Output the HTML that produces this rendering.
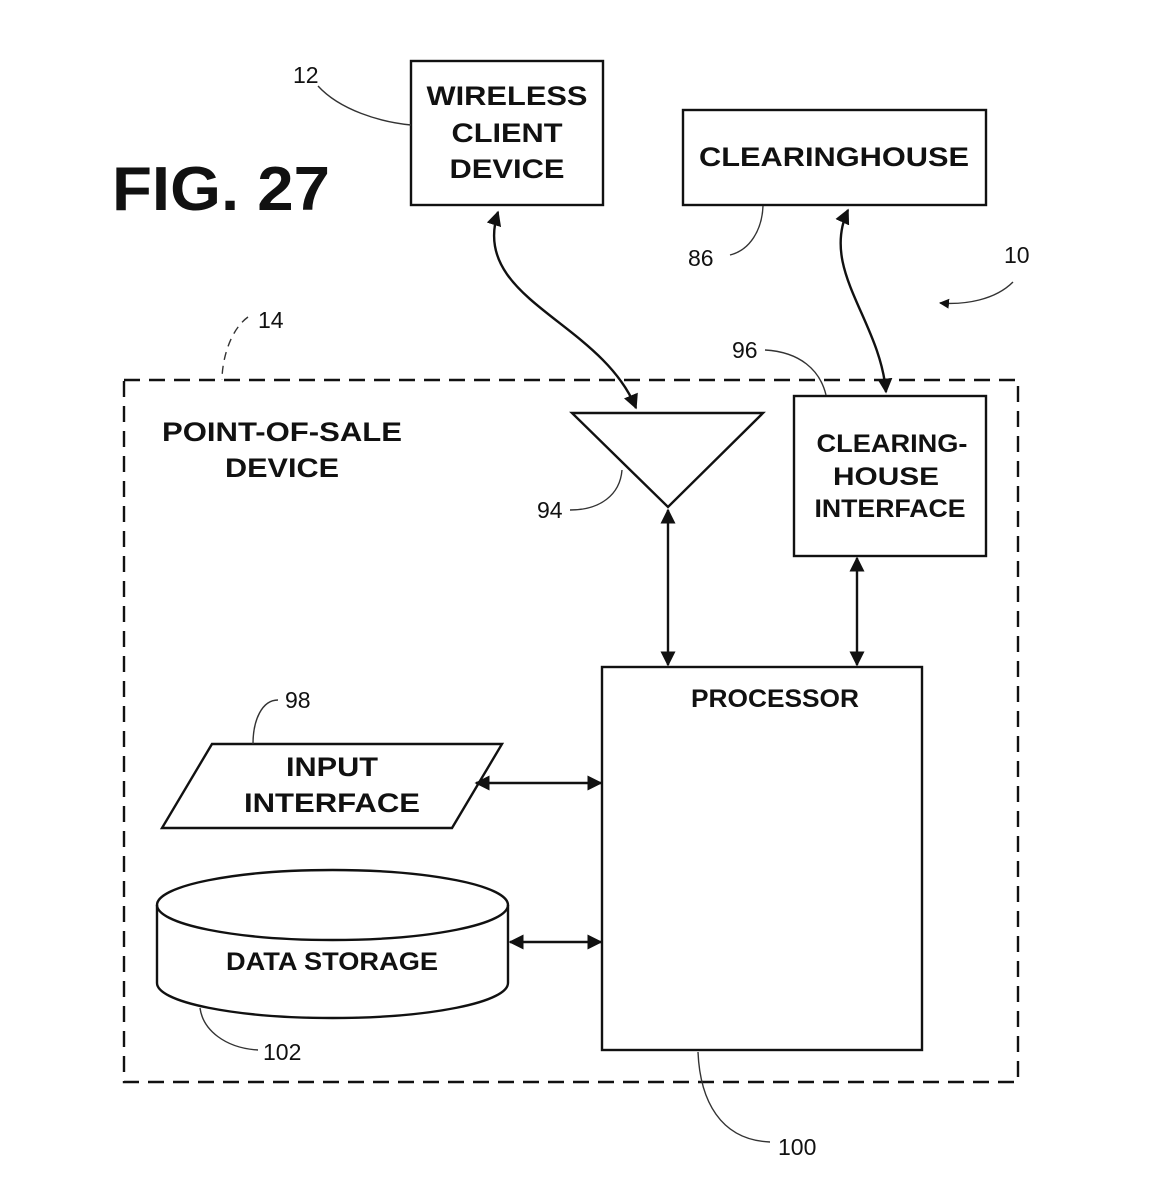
<!DOCTYPE html>
<html><head><meta charset="utf-8"><style>
html,body{margin:0;padding:0;background:#fff;}
svg{display:block;}
text{font-family:"Liberation Sans",Arial,sans-serif;fill:#111;}
.b{font-weight:bold;font-size:27px;text-anchor:middle;}
.n{font-size:23px;}
</style></head><body>
<svg width="1167" height="1200" viewBox="0 0 1167 1200" xmlns="http://www.w3.org/2000/svg">
<defs>
<marker id="a" viewBox="0 0 10 10" refX="9" refY="5" markerWidth="10" markerHeight="10" orient="auto-start-reverse" markerUnits="userSpaceOnUse"><path d="M0,0 L10,5 L0,10 z" fill="#111"/></marker>
<marker id="s" viewBox="0 0 10 10" refX="9" refY="5" markerWidth="15" markerHeight="15" orient="auto-start-reverse" markerUnits="userSpaceOnUse"><path d="M0,0 L10,5 L0,10 z" fill="#111"/></marker>
</defs>
<g fill="none" stroke="#111" stroke-width="2.4">
<text x="112" y="210" textLength="218" lengthAdjust="spacingAndGlyphs" style="font-weight:bold;font-size:62px;fill:#111;stroke:none">FIG. 27</text>
<rect x="411" y="61" width="192" height="144"/>
<rect x="683" y="110" width="303" height="95"/>
<rect x="124" y="380" width="894" height="702" stroke-dasharray="16,9"/>
<polygon points="572,413 763,413 668,507"/>
<rect x="794" y="396" width="192" height="160"/>
<rect x="602" y="667" width="320" height="383"/>
<polygon points="212,744 502,744 452,828 162,828"/>
<path d="M157,905 L157,983 A175.5,35 0 0 0 508,983 L508,905"/>
<ellipse cx="332.5" cy="905" rx="175.5" ry="35"/>
<path d="M498,212 C470,300 600,320 636,408" marker-start="url(#s)" marker-end="url(#s)"/>
<path d="M848,210 C820,270 880,320 886,392" marker-start="url(#s)" marker-end="url(#s)"/>
<path d="M668,510 L668,665" marker-start="url(#s)" marker-end="url(#s)"/>
<path d="M857,558 L857,665" marker-start="url(#s)" marker-end="url(#s)"/>
<path d="M476,783 L601,783" marker-start="url(#s)" marker-end="url(#s)"/>
<path d="M510,942 L601,942" marker-start="url(#s)" marker-end="url(#s)"/>
</g>
<g fill="none" stroke="#333" stroke-width="1.4">
<path d="M318,86 C340,110 380,122 411,125"/>
<path d="M730,255 C750,250 762,230 763,206"/>
<path d="M1013,282 C995,300 965,305 940,303" marker-end="url(#a)"/>
<path d="M248,317 C230,330 222,360 222,380" stroke-dasharray="8,6"/>
<path d="M570,510 C600,510 620,495 622,470"/>
<path d="M765,350 C800,352 820,370 826,395"/>
<path d="M278,700 C262,700 253,720 253,744"/>
<path d="M258,1050 C225,1048 203,1030 200,1008"/>
<path d="M770,1142 C720,1140 700,1100 698,1052"/>
</g>
<g lengthAdjust="spacingAndGlyphs">
<text class="b" x="507" y="105" textLength="161" lengthAdjust="spacingAndGlyphs">WIRELESS</text>
<text class="b" x="507" y="142" textLength="111" lengthAdjust="spacingAndGlyphs">CLIENT</text>
<text class="b" x="507" y="178" textLength="115" lengthAdjust="spacingAndGlyphs">DEVICE</text>
<text class="b" x="834" y="166" textLength="270" lengthAdjust="spacingAndGlyphs">CLEARINGHOUSE</text>
<text class="b" x="282" y="441" textLength="240" lengthAdjust="spacingAndGlyphs">POINT-OF-SALE</text>
<text class="b" x="282" y="477" textLength="114" lengthAdjust="spacingAndGlyphs">DEVICE</text>
<text class="b" x="892" y="452" style="font-size:25px" textLength="151" lengthAdjust="spacingAndGlyphs">CLEARING-</text>
<text class="b" x="886" y="485" style="font-size:25px" textLength="106" lengthAdjust="spacingAndGlyphs">HOUSE</text>
<text class="b" x="890" y="517" style="font-size:25px" textLength="151" lengthAdjust="spacingAndGlyphs">INTERFACE</text>
<text class="b" x="775" y="707" style="font-size:25px" textLength="168" lengthAdjust="spacingAndGlyphs">PROCESSOR</text>
<text class="b" x="332" y="776" textLength="92" lengthAdjust="spacingAndGlyphs">INPUT</text>
<text class="b" x="332" y="812" textLength="176" lengthAdjust="spacingAndGlyphs">INTERFACE</text>
<text class="b" x="332" y="970" style="font-size:25px" textLength="212" lengthAdjust="spacingAndGlyphs">DATA STORAGE</text>
</g>
<text class="n" x="293" y="83">12</text>
<text class="n" x="688" y="266">86</text>
<text class="n" x="1004" y="263">10</text>
<text class="n" x="258" y="328">14</text>
<text class="n" x="732" y="358">96</text>
<text class="n" x="537" y="518">94</text>
<text class="n" x="285" y="708">98</text>
<text class="n" x="263" y="1060">102</text>
<text class="n" x="778" y="1155">100</text>
</svg>
</body></html>
